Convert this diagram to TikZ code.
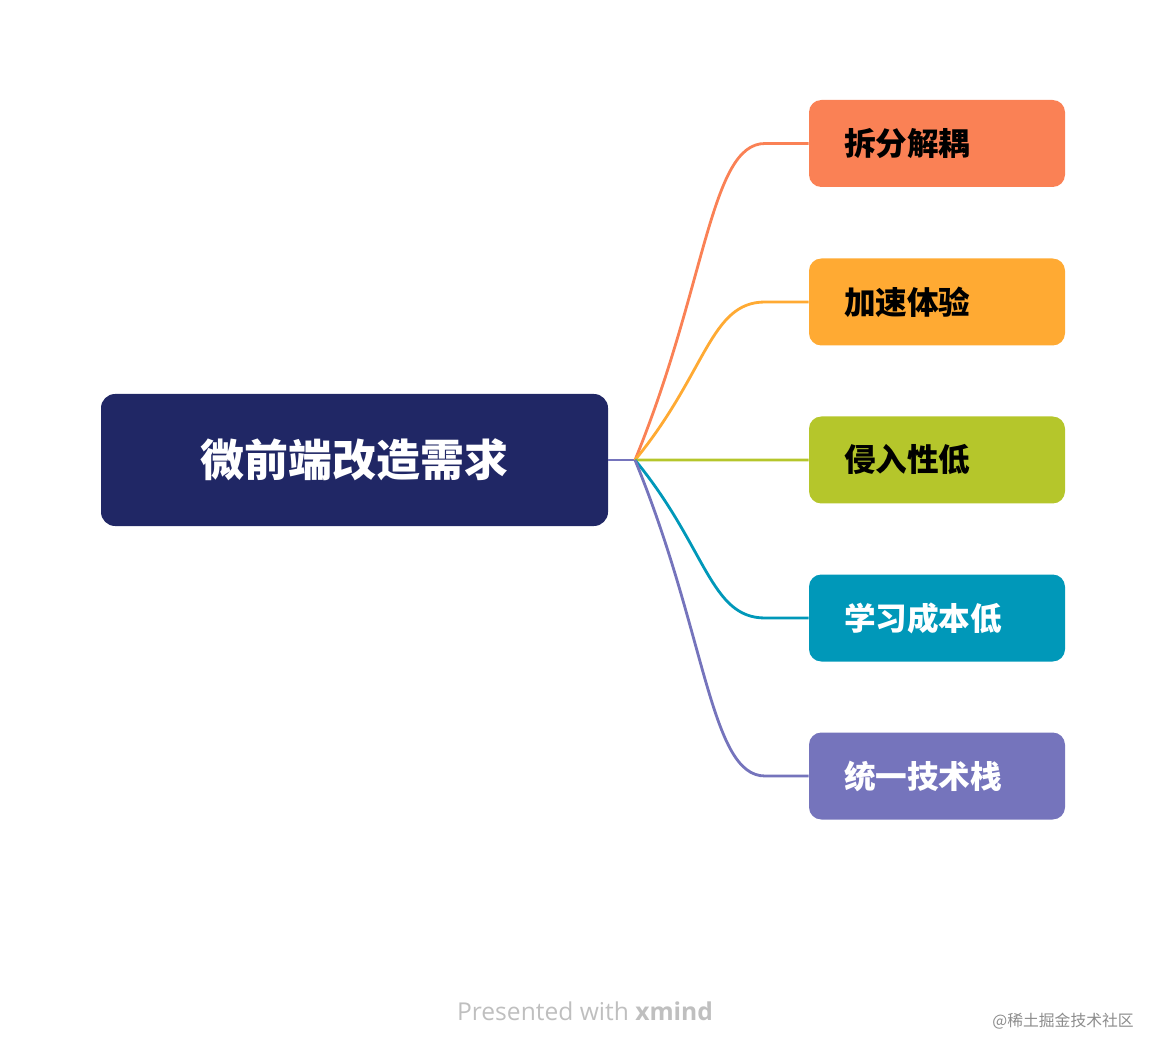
\documentclass[tikz,border=0pt]{standalone}
\usepackage{fontspec}
\setmainfont{Noto Sans CJK SC}
\newfontfamily\latinfont{Open Sans}
\usetikzlibrary{calc}
\definecolor{rootColor}{HTML}{202765}
\definecolor{cOrange}{HTML}{FA8155}
\definecolor{cAmber}{HTML}{FFAA33}
\definecolor{cOlive}{HTML}{B5C62B}
\definecolor{cTeal}{HTML}{0098B9}
\definecolor{cPurple}{HTML}{7574BC}
\tikzset{root/.style = {fill=rootColor, rounded corners=8pt, minimum width=507*0.02cm,
    minimum height=132*0.02cm, text=white, font=\bfseries\fontsize{25}{28}\selectfont}}
\tikzset{topic/.style = {rounded corners=7pt, minimum width=256*0.02cm, minimum height=87*0.02cm,
    text width=256*0.02cm-1.4cm, align=left, font=\bfseries\fontsize{18}{20}\selectfont}}
\tikzset{branch/.style = {line width=1.6pt}}
\begin{document}
\begin{tikzpicture}[x=0.02cm,y=-0.02cm]
    \useasboundingbox (0,0) rectangle (1166,1060);
    \node[root] (R) at (354.5,460) {微前端改造需求};
    \coordinate (J) at (635,460);
    \draw[branch, cPurple] (R.east) -- (J);

    \foreach \n/\y/\c/\t/\T in {A/143.5/cOrange/black/拆分解耦, B/302/cAmber/black/加速体验,
            C/460/cOlive/black/侵入性低, D/618/cTeal/white/学习成本低, E/776/cPurple/white/统一技术栈}
    {
        \node[topic, fill=\c, text=\t] (\n) at (937,\y) {\T};
        \draw[branch, \c] (J) .. controls ($(J)!0.55!(765,\y)$) and (710,\y) .. (765,\y) -- (\n.west);
    }

    \node[text=black!25, font=\latinfont\fontsize{14}{16}\selectfont] (P) at (585,1011)
        {Presented with \textbf{xmind}};
    \node[text=black!45, font=\fontsize{9}{10}\selectfont, anchor=east] (W) at (1140,1021) {@稀土掘金技术社区};
\end{tikzpicture}
\end{document}
